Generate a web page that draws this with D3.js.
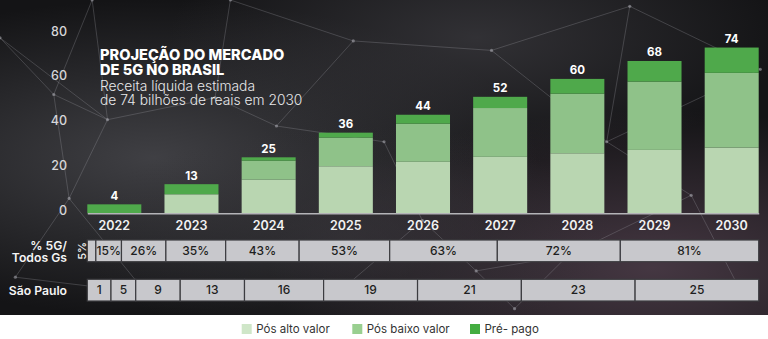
<!DOCTYPE html>
<html><head><meta charset="utf-8">
<script src="https://cdn.jsdelivr.net/npm/d3@7"></script>
<style>html,body{margin:0;padding:0;background:#fff;overflow:hidden}svg{display:block}</style>
</head><body><svg id="chart" width="768" height="339"></svg>
<script>
// Receita líquida 5G (R$ bilhões) por segmento
const years    = ['2022','2023','2024','2025','2026','2027','2028','2029','2030'];
const posAlto  = [0, 8.5, 15, 21, 23, 25.2, 26.8, 28.3, 29.3];
const posBaixo = [0, 0, 8.5, 12.8, 17, 21.8, 26.6, 30.5, 33.4];
const prePago  = [4, 4.5, 1.5, 2.2, 4, 5, 6.6, 9.2, 11.3];
const yTicks   = [0, 20, 40, 60, 80];

// % de acessos 5G sobre todas as gerações
const shareValues = [5, 15, 26, 35, 43, 53, 63, 72, 81];
// São Paulo
const spValues = [1, 5, 9, 13, 16, 19, 21, 23, 25];

const seriesNames  = ['Pós alto valor', 'Pós baixo valor', 'Pré- pago'];
const seriesColors = ['#b9d6b1', '#8fc289', '#4fa94b'];
const legendColors = ['#cfe6c8', '#99cf90', '#44ad41'];

const W = 768, H = 339;
const FONT = 'Inter, "Noto Sans", sans-serif';
const svg = d3.select('#chart');

// ---------- background ----------
const defs = svg.append('defs');
function haze(id, cx, cy, r, color, op) {
  const g = defs.append('radialGradient').attr('id', id).attr('cx', cx).attr('cy', cy).attr('r', r);
  g.append('stop').attr('offset', 0).attr('stop-color', color).attr('stop-opacity', op);
  g.append('stop').attr('offset', 1).attr('stop-color', color).attr('stop-opacity', 0);
}
haze('haze1', 0.2, 0.5, 0.5, '#4e4e53', 0.75);
haze('haze2', 0.85, 0.85, 0.5, '#5a4655', 0.7);
haze('haze3', 0.62, 0.12, 0.4, '#3e3d42', 0.7);
haze('haze4', 0.45, 0.75, 0.35, '#38363b', 0.6);

const bgH = 315;
svg.append('rect').attr('width', W).attr('height', H).attr('fill', '#ffffff');
svg.append('rect').attr('width', W).attr('height', bgH).attr('fill', '#141416');
['haze1', 'haze2', 'haze3', 'haze4'].forEach(id =>
  svg.append('rect').attr('width', W).attr('height', bgH).attr('fill', `url(#${id})`));

// decorative plexus network (normalised coordinates)
const netNodes = [
  [0.00, 0.12], [0.07, 0.30], [0.14, 0.38], [0.09, 0.63], [0.02, 0.88], [0.19, 0.93],
  [0.28, 0.31], [0.36, 0.40], [0.46, 0.13], [0.64, 0.16], [0.82, 0.02], [0.99, 0.22],
  [0.55, 0.70], [0.62, 0.86], [0.74, 0.81], [0.90, 0.62], [0.97, 0.95], [0.43, 0.95],
  [0.30, 0.00], [0.12, 0.00], [0.79, 0.45], [0.67, 0.98], [0.50, 0.45]
];
const netEdges = [
  [0,1],[1,2],[1,3],[2,3],[3,4],[3,5],[2,6],[6,7],[7,8],[8,9],[9,10],[10,11],
  [12,13],[13,14],[14,15],[15,16],[12,17],[5,17],[18,6],[19,1],[19,2],[9,20],
  [20,15],[14,21],[13,21],[22,7],[22,12],[11,20],[4,5],[0,2],[8,18],[10,20]
];
const net = svg.append('g').attr('stroke', '#a0a0a8').attr('stroke-width', 0.7).attr('stroke-opacity', 0.4);
netEdges.forEach(([a, b]) => net.append('line')
  .attr('x1', netNodes[a][0] * W).attr('y1', netNodes[a][1] * bgH)
  .attr('x2', netNodes[b][0] * W).attr('y2', netNodes[b][1] * bgH));
svg.append('g').selectAll('circle').data(netNodes).join('circle')
  .attr('cx', d => d[0] * W).attr('cy', d => d[1] * bgH).attr('r', 1.6)
  .attr('fill', '#b8b8c0').attr('fill-opacity', 0.5);

// ---------- scales ----------
const x = d3.scaleBand().domain(years).range([87.3, 758.7]).paddingInner(0.3).paddingOuter(0);
const y = d3.scaleLinear().domain([0, 80]).range([213.3, 34.1]);

const rows = years.map((yr, i) => ({ year: yr, a: posAlto[i], b: posBaixo[i], c: prePago[i] }));
const stack = d3.stack().keys(['a', 'b', 'c'])(rows);

// bars
svg.append('g').selectAll('g').data(stack).join('g')
  .attr('fill', (d, i) => seriesColors[i])
  .selectAll('rect').data(d => d).join('rect')
  .attr('x', d => x(d.data.year))
  .attr('width', x.bandwidth())
  .attr('y', d => y(d[1]))
  .attr('height', d => y(d[0]) - y(d[1]));

// value labels from stacked totals
const topLayer = stack[stack.length - 1];
svg.append('g').selectAll('text').data(topLayer).join('text')
  .attr('x', d => x(d.data.year) + x.bandwidth() / 2)
  .attr('y', d => y(d[1]) - 4.5)
  .attr('text-anchor', 'middle')
  .attr('font-family', FONT).attr('font-weight', 700).attr('font-size', 11.5)
  .attr('fill', '#ffffff')
  .text(d => d3.format('.0f')(d[1]));

// y axis
const yAxis = svg.append('g').attr('transform', 'translate(67,0)')
  .call(d3.axisLeft(y).tickValues(yTicks).tickSize(0).tickPadding(0));
yAxis.select('.domain').remove();
yAxis.selectAll('text').attr('y', -3)
  .attr('font-family', FONT).attr('font-size', 12.5).attr('font-weight', 500).attr('fill', '#d6d6d8');

// x axis
const xAxis = svg.append('g').attr('transform', `translate(0,${y(0)})`)
  .call(d3.axisBottom(x).tickSize(0).tickPadding(8));
xAxis.select('.domain').attr('stroke', '#b4b4b8').attr('stroke-width', 1.5);
xAxis.selectAll('text')
  .attr('font-family', FONT).attr('font-size', 12.5).attr('font-weight', 600).attr('fill', '#f2f2f2');

// ---------- title ----------
const title = svg.append('g').attr('font-family', FONT).attr('fill', '#ffffff');
title.append('text').attr('x', 100).attr('y', 59.5).attr('font-size', 14.6).attr('font-weight', 800)
  .text('PROJEÇÃO DO MERCADO');
title.append('text').attr('x', 100).attr('y', 74.5).attr('font-size', 14.6).attr('font-weight', 800)
  .text('DE 5G NO BRASIL');
title.append('text').attr('x', 100).attr('y', 91).attr('font-size', 13.8).attr('font-weight', 300)
  .attr('fill', '#e8e8ea').text('Receita líquida estimada');
title.append('text').attr('x', 100).attr('y', 105).attr('font-size', 13.8).attr('font-weight', 300)
  .attr('fill', '#e8e8ea').text('de 74 bilhões de reais em 2030');

// ---------- proportional strips ----------
const [stripX0, stripX1] = x.range();

function stripCells(values, minW) {
  // width proportional to value, with a minimum width for tiny cells
  const total = stripX1 - stripX0;
  let small = values.map(() => false);
  let k;
  for (let it = 0; it < values.length; it++) {
    const nSmall = small.filter(Boolean).length;
    const rest = d3.sum(values.filter((v, i) => !small[i]));
    k = (total - nSmall * minW) / rest;
    const next = values.map(v => v * k < minW);
    if (next.every((s, i) => s === small[i])) break;
    small = next;
  }
  let cx = stripX0;
  return values.map((v, i) => {
    const w = small[i] ? minW : v * k;
    const cell = { v, x0: cx, x1: cx + w, i };
    cx += w;
    return cell;
  });
}

function drawStrip(cells, yTop, h, fmt, skipFirstLabel) {
  const g = svg.append('g');
  g.selectAll('rect').data(cells).join('rect')
    .attr('x', d => d.x0).attr('y', yTop)
    .attr('width', d => d.x1 - d.x0).attr('height', h)
    .attr('fill', '#c8c8cc').attr('stroke', '#3c3c40').attr('stroke-width', 1.2);
  g.selectAll('text').data(cells.filter(d => !(skipFirstLabel && d.i === 0))).join('text')
    .attr('x', d => (d.x0 + d.x1) / 2).attr('y', yTop + h / 2)
    .attr('dy', '0.36em').attr('text-anchor', 'middle')
    .attr('font-family', FONT).attr('font-size', 12).attr('font-weight', 500).attr('fill', '#1e1e20')
    .text(d => fmt(d.v));
  return g;
}

const shareCells = stripCells(shareValues, 0);
drawStrip(shareCells, 240, 21.7, v => v + '%', true);
// first share value is too narrow: written vertically beside the strip
svg.append('text')
  .attr('transform', `translate(${shareCells[0].x0 - 5},${240 + 21.7 / 2}) rotate(-90)`)
  .attr('text-anchor', 'middle').attr('dy', '0.36em')
  .attr('font-family', FONT).attr('font-size', 11).attr('font-weight', 500).attr('fill', '#f0f0f0')
  .text(shareValues[0] + '%');

const spCells = stripCells(spValues, 23.7);
drawStrip(spCells, 279.3, 21.7, v => String(v), false);

// row labels
const rowLab = svg.append('g').attr('font-family', FONT).attr('font-weight', 600)
  .attr('font-size', 12.2).attr('fill', '#f4f4f4').attr('text-anchor', 'end');
rowLab.append('text').attr('x', 67).attr('y', 249.5).text('% 5G/');
rowLab.append('text').attr('x', 67).attr('y', 262).text('Todos Gs');
rowLab.append('text').attr('x', 67).attr('y', 295).text('São Paulo');

// ---------- legend ----------
const legendX = [241.7, 352.3, 470];
const leg = svg.append('g');
seriesNames.forEach((name, i) => {
  const item = leg.append('g').attr('transform', `translate(${legendX[i]},324)`);
  item.append('rect').attr('width', 10).attr('height', 10).attr('fill', legendColors[i]);
  item.append('text').attr('x', 14.5).attr('y', 5).attr('dy', '0.36em')
    .attr('font-family', FONT).attr('font-size', 11.5).attr('fill', '#333333').text(name);
});
</script>
</body></html>
